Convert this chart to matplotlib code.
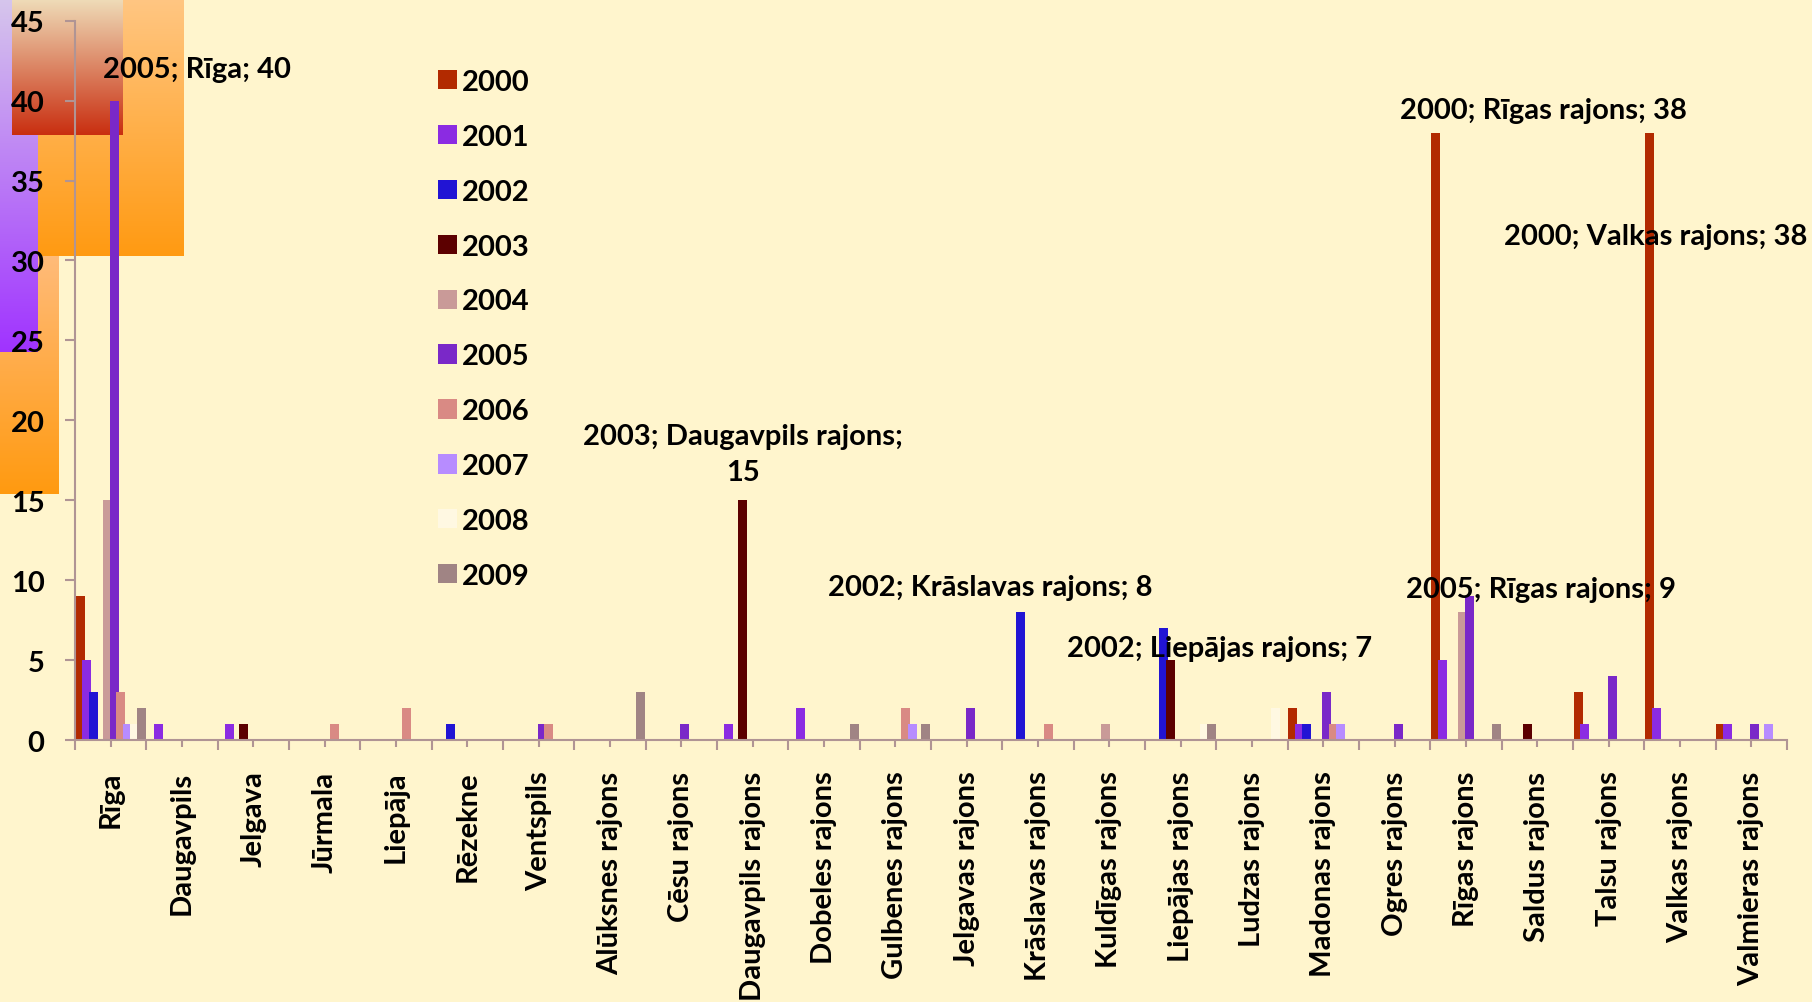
import numpy as np
import matplotlib
matplotlib.use("Agg")
import matplotlib.pyplot as plt
from matplotlib.colors import to_rgb

plt.rcParams['font.family'] = ['Lato', 'DejaVu Sans']
plt.rcParams['font.weight'] = 'bold'

# ---- data -------------------------------------------------------------
categories = ["Rīga", "Daugavpils", "Jelgava", "Jūrmala", "Liepāja", "Rēzekne",
              "Ventspils", "Alūksnes rajons", "Cēsu rajons", "Daugavpils rajons",
              "Dobeles rajons", "Gulbenes rajons", "Jelgavas rajons",
              "Krāslavas rajons", "Kuldīgas rajons", "Liepājas rajons",
              "Ludzas rajons", "Madonas rajons", "Ogres rajons", "Rīgas rajons",
              "Saldus rajons", "Talsu rajons", "Valkas rajons", "Valmieras rajons"]
years = ["2000", "2001", "2002", "2003", "2004", "2005", "2006", "2007", "2008", "2009"]

#            Rīg Dau Jel Jūr Lie Rēz Ven Alū Cēs DaR Dob Gul JeR Krā Kul LiR Lud Mad Ogr RīR Sal Tal Val Vlm
v2000 = [9,  0,  0,  0,  0,  0,  0,  0,  0,  0,  0,  0,  0,  0,  0,  0,  0,  2,  0,  38, 0,  3,  38, 1]
v2001 = [5,  1,  1,  0,  0,  0,  0,  0,  0,  1,  2,  0,  0,  0,  0,  0,  0,  1,  0,  5,  0,  1,  2,  1]
v2002 = [3,  0,  0,  0,  0,  1,  0,  0,  0,  0,  0,  0,  0,  8,  0,  7,  0,  1,  0,  0,  0,  0,  0,  0]
v2003 = [0,  0,  1,  0,  0,  0,  0,  0,  0,  15, 0,  0,  0,  0,  0,  5,  0,  0,  0,  0,  1,  0,  0,  0]
v2004 = [15, 0,  0,  0,  0,  0,  0,  0,  0,  0,  0,  0,  0,  0,  1,  0,  0,  0,  0,  8,  0,  0,  0,  0]
v2005 = [40, 0,  0,  0,  0,  0,  1,  0,  1,  0,  0,  0,  2,  0,  0,  0,  0,  3,  1,  9,  0,  4,  0,  1]
v2006 = [3,  0,  0,  1,  2,  0,  1,  0,  0,  0,  0,  2,  0,  1,  0,  0,  0,  1,  0,  0,  0,  0,  0,  0]
v2007 = [1,  0,  0,  0,  0,  0,  0,  0,  0,  0,  0,  1,  0,  0,  0,  0,  0,  1,  0,  0,  0,  0,  0,  1]
v2008 = [1,  0,  0,  0,  0,  0,  0,  0,  0,  0,  0,  0,  0,  0,  0,  1,  2,  0,  0,  0,  0,  0,  0,  0]
v2009 = [2,  0,  0,  0,  0,  0,  0,  3,  0,  0,  1,  1,  0,  0,  0,  1,  0,  0,  0,  1,  0,  0,  0,  0]
series = [v2000, v2001, v2002, v2003, v2004, v2005, v2006, v2007, v2008, v2009]

colors = ["#B22A00", "#8B2BE2", "#2114D4", "#5C0000", "#C99A98",
          "#7A28C8", "#D98A84", "#B78CFF", "#FFF8E2", "#A08484"]

# labelled points: (year, category) and label centre in data coordinates
labelled = [("2005", "Rīga", 1.21, 41.95),
            ("2003", "Daugavpils rajons", 8.86, 17.9),
            ("2002", "Krāslavas rajons", 12.33, 9.56),
            ("2002", "Liepājas rajons", 15.54, 5.75),
            ("2005", "Rīgas rajons", 20.05, 9.44),
            ("2000", "Rīgas rajons", 20.09, 39.44),
            ("2000", "Valkas rajons", 21.66, 31.52)]

BG = "#FFF5CD"
AXC = "#B09494"
W, H = 1812, 1003
FS = 21

fig = plt.figure(figsize=(W / 100, H / 100), dpi=100, facecolor=BG)

# ---- decorative gradient blocks in the top-left corner ----------------
deco = fig.add_axes([0, 0, 1, 1], zorder=-1)
deco.axis("off")
deco.patch.set_alpha(0)


def gradient_block(ax, x0, x1, y0, y1, c_top, c_bot):
    t = np.linspace(0, 1, 256)[:, None, None]
    a = np.array(to_rgb(c_top))[None, None, :]
    b = np.array(to_rgb(c_bot))[None, None, :]
    img = a * (1 - t) + b * t
    ax.imshow(img, extent=(x0, x1, y1, y0), origin="upper", aspect="auto",
              interpolation="bilinear")


gradient_block(deco, 0, 59, 250, 495, "#FFBC7C", "#FF9A10")
gradient_block(deco, 38, 184, 0, 257, "#FFC682", "#FF9A12")
gradient_block(deco, 0, 38, 0, 353, "#D6C6EC", "#A033FF")
gradient_block(deco, 12, 123, 0, 136, "#EFDCB8", "#C92E10")
deco.set_xlim(0, W)
deco.set_ylim(H, 0)

# ---- main chart ------------------------------------------------------
ax = fig.add_axes([75 / W, (H - 741) / H, 1712 / W, (741 - 21.7) / H])
ax.patch.set_alpha(0)

n = len(years)
x = np.arange(len(categories))
step = 0.0954
width = 0.126
bars = []
for j, (yr, vals, col) in enumerate(zip(years, series, colors)):
    b = ax.bar(x + (j - (n - 1) / 2) * step, vals, width=width, color=col,
               label=yr, zorder=2, linewidth=0)
    bars.append(b)

ax.set_xlim(-0.5, len(categories) - 0.5)
ax.set_ylim(0, 45)
ax.set_yticks(np.arange(0, 46, 5))

ax.set_xticks(x)
ax.set_xticklabels(categories, rotation=90, fontsize=FS, fontweight="bold")
ax.set_xticks(np.arange(-0.5, len(categories), 1), minor=True)
ax.tick_params(axis="x", which="major", length=5, width=1.5, color=AXC, pad=17)
ax.tick_params(axis="x", which="minor", length=7, width=1.5, color=AXC)
ax.tick_params(axis="y", which="major", length=7, width=1.5, color=AXC,
               pad=15, labelsize=FS)
for lab in ax.get_yticklabels():
    lab.set_fontweight("bold")

for s in ["top", "right"]:
    ax.spines[s].set_visible(False)
for s in ["left", "bottom"]:
    ax.spines[s].set_color(AXC)
    ax.spines[s].set_linewidth(1.5)

# data labels
for yr, cat, tx, ty in labelled:
    val = series[years.index(yr)][categories.index(cat)]
    text = f"{yr}; {cat}; {val}"
    if cat == "Daugavpils rajons":
        text = f"{yr}; {cat};\n{val}"
    ax.text(tx, ty, text, ha="center", va="center", fontsize=FS,
            fontweight="bold", linespacing=1.5, zorder=5)

leg = ax.legend(handles=bars, labels=years, loc="upper left",
                bbox_to_anchor=(438 / W, 1 - 70 / H),
                bbox_transform=fig.transFigure, frameon=False,
                prop={"size": FS, "weight": "bold"},
                handlelength=0.65, handleheight=0.65, handletextpad=0.18,
                labelspacing=0.99, borderpad=0, borderaxespad=0)

fig.savefig("out.png", dpi=100, facecolor=BG)
